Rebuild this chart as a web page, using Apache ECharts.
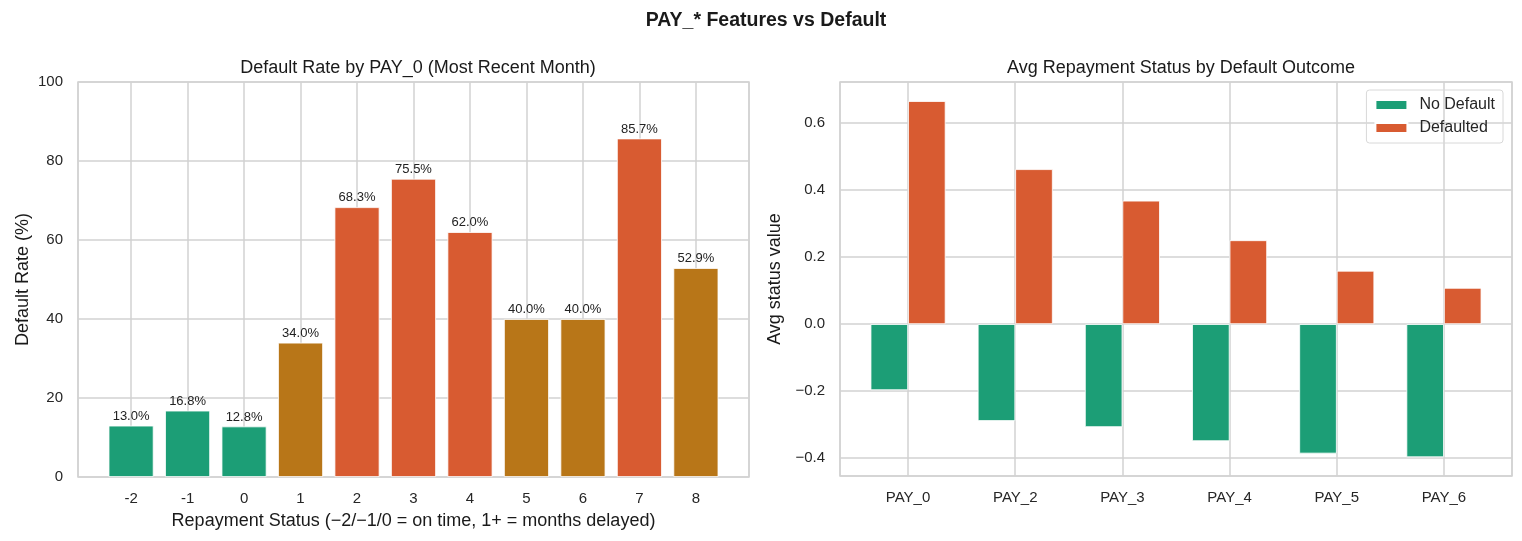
<!DOCTYPE html>
<html>
<head>
<meta charset="utf-8">
<script src="https://cdn.jsdelivr.net/npm/echarts@6/dist/echarts.min.js"></script>
<style>
  html, body { margin: 0; padding: 0; background: #fff; }
  #container { width: 1522px; height: 541px; }
</style>
</head>
<body>
<div id="container"></div>
<script>
// left panel: default rate by PAY_0 status
var payStatus = [-2, -1, 0, 1, 2, 3, 4, 5, 6, 7, 8];
var defaultRate = [13.0, 16.8, 12.8, 34.0, 68.3, 75.5, 62.0, 40.0, 40.0, 85.7, 52.9];

// right panel: average repayment status
var payFeatures = ['PAY_0', 'PAY_2', 'PAY_3', 'PAY_4', 'PAY_5', 'PAY_6'];
var noDefaultAvg = [-0.197, -0.289, -0.307, -0.349, -0.386, -0.397];
var defaultedAvg = [0.665, 0.462, 0.368, 0.250, 0.159, 0.108];

var GREEN = '#1c9e76', OCHRE = '#b87618', RED = '#d85b31';
var GRID = '#d2d2d2';
var FONT = 'Liberation Sans, Arial, sans-serif';

function rateColor(v) {
    if (v >= 60) return RED;
    if (v >= 30) return OCHRE;
    return GREEN;
}

var myChart = echarts.init(document.getElementById('container'));

var leftBars = [];
for (var i = 0; i < payStatus.length; i++) {
    leftBars.push({
        value: [payStatus[i], defaultRate[i]],
        itemStyle: { color: rateColor(defaultRate[i]) }
    });
}
var noDefData = [], defData = [];
for (var j = 0; j < payFeatures.length; j++) {
    noDefData.push([j, noDefaultAvg[j]]);
    defData.push([j, defaultedAvg[j]]);
}

var axisText = { color: '#262626', fontSize: 15, fontFamily: FONT };
var nameText = { fontSize: 18, color: '#1a1a1a', fontFamily: FONT };

myChart.setOption({
    animation: false,
    textStyle: { fontFamily: FONT },
    title: [{
        text: 'PAY_* Features vs Default',
        left: 761, top: 6, textAlign: 'center',
        textStyle: { fontSize: 19.5, fontWeight: 'bold', color: '#1a1a1a', fontFamily: FONT }
    }, {
        text: 'Default Rate by PAY_0 (Most Recent Month)',
        left: 413, top: 54, textAlign: 'center',
        textStyle: { fontSize: 18, fontWeight: 'normal', color: '#1a1a1a', fontFamily: FONT }
    }, {
        text: 'Avg Repayment Status by Default Outcome',
        left: 1176, top: 54, textAlign: 'center',
        textStyle: { fontSize: 18, fontWeight: 'normal', color: '#1a1a1a', fontFamily: FONT }
    }],
    legend: {
        data: ['No Default', 'Defaulted'],
        orient: 'vertical',
        right: 19, top: 90,
        itemWidth: 32, itemHeight: 10, itemGap: 7,
        padding: [7, 8, 7, 8],
        borderColor: '#d8d8d8', borderWidth: 1, borderRadius: 3,
        icon: 'rect',
        textStyle: { fontSize: 16, color: '#262626', fontFamily: FONT, padding: [0, 0, 0, 7] }
    },
    grid: [{
        left: 78, right: 773, top: 82, bottom: 64,
        show: true, borderColor: GRID, borderWidth: 1.5
    }, {
        left: 840, right: 10, top: 82, bottom: 65,
        show: true, borderColor: GRID, borderWidth: 1.5
    }],
    xAxis: [{
        gridIndex: 0,
        type: 'value',
        min: -2.94, max: 8.94,
        splitNumber: 11,
        axisLine: { show: false },
        axisTick: { show: false },
        axisLabel: Object.assign({ margin: 14, showMinLabel: false, showMaxLabel: false,
            formatter: function (v) { return Math.round(v) === v ? String(v) : ''; } }, axisText),
        splitLine: { show: true, lineStyle: { color: GRID, width: 1.5 } },
        name: 'Repayment Status (\u22122/\u22121/0 = on time, 1+ = months delayed)',
        nameLocation: 'middle', nameGap: 35,
        nameTextStyle: nameText
    }, {
        gridIndex: 1,
        type: 'value',
        min: -0.635, max: 5.635,
        splitNumber: 6,
        axisLine: { show: false },
        axisTick: { show: false },
        axisLabel: Object.assign({ margin: 14, showMinLabel: false, showMaxLabel: false,
            formatter: function (v) { return Math.round(v) === v ? (payFeatures[v] || '') : ''; } }, axisText),
        splitLine: { show: true, lineStyle: { color: GRID, width: 1.5 } }
    }],
    yAxis: [{
        gridIndex: 0,
        type: 'value',
        min: 0, max: 100, interval: 20,
        axisLine: { show: false },
        axisTick: { show: false },
        axisLabel: Object.assign({ margin: 15 }, axisText),
        splitLine: { show: true, lineStyle: { color: GRID, width: 1.5 } },
        name: 'Default Rate (%)',
        nameLocation: 'middle', nameGap: 46,
        nameTextStyle: nameText
    }, {
        gridIndex: 1,
        type: 'value',
        min: -0.453, max: 0.722,
        splitNumber: 6,
        axisLine: { show: false },
        axisTick: { show: false },
        axisLabel: Object.assign({ margin: 15, showMinLabel: false, showMaxLabel: false,
            formatter: function (v) {
                var s = v.toFixed(1);
                return s.charAt(0) === '-' ? '\u2212' + s.slice(1) : s;
            } }, axisText),
        splitLine: { show: true, lineStyle: { color: GRID, width: 1.5 } },
        name: 'Avg status value',
        nameLocation: 'middle', nameGap: 56,
        nameTextStyle: nameText
    }],
    series: [{
        type: 'bar',
        xAxisIndex: 0, yAxisIndex: 0,
        barWidth: 45,
        data: leftBars,
        itemStyle: { borderColor: '#fff', borderWidth: 0.8 },
        label: {
            show: true, position: 'top', distance: 3,
            fontSize: 13, color: '#222', fontFamily: FONT,
            formatter: function (p) { return p.value[1].toFixed(1) + '%'; }
        }
    }, {
        name: 'No Default',
        type: 'bar',
        xAxisIndex: 1, yAxisIndex: 1,
        barWidth: 37.5, barGap: '0%',
        data: noDefData,
        itemStyle: { color: GREEN, borderColor: '#fff', borderWidth: 0.8 }
    }, {
        name: 'Defaulted',
        type: 'bar',
        xAxisIndex: 1, yAxisIndex: 1,
        barWidth: 37.5, barGap: '0%',
        data: defData,
        itemStyle: { color: RED, borderColor: '#fff', borderWidth: 0.8 }
    }]
});
</script>
</body>
</html>
